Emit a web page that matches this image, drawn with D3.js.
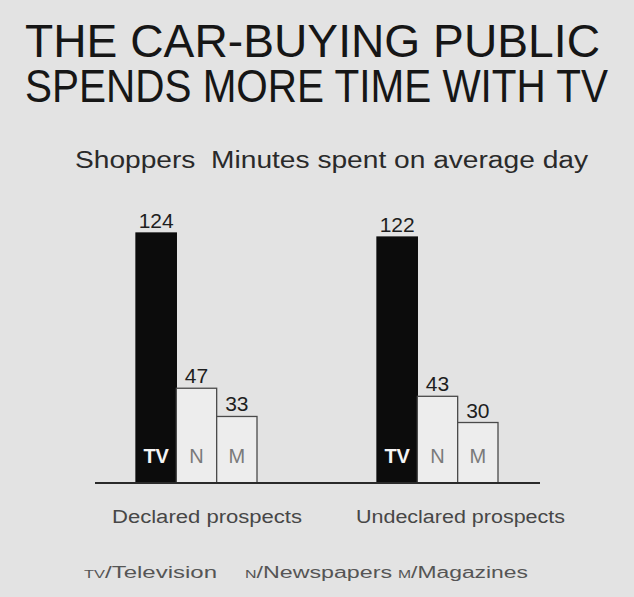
<!DOCTYPE html>
<html>
<head>
<meta charset="utf-8">
<script src="https://cdn.jsdelivr.net/npm/d3@7"></script>
<style>
  body { margin: 0; background: #fff; }
  svg text { font-family: "Liberation Sans", Arial, sans-serif; white-space: pre; }
</style>
</head>
<body>
<div id="chart"></div>
<script>
var groups = ["Declared prospects", "Undeclared prospects"];
var media = ["TV", "N", "M"];
var tvValues = [124, 122];
var newspaperValues = [47, 43];
var magazineValues = [33, 30];
var legendLabels = [["TV", "/Television"], ["N", "/Newspapers"], ["M", "/Magazines"]];

var width = 634, height = 597;

var rows = [];
groups.forEach(function(g, i) {
    rows.push({group: g, medium: "TV", value: tvValues[i]});
    rows.push({group: g, medium: "N", value: newspaperValues[i]});
    rows.push({group: g, medium: "M", value: magazineValues[i]});
});

var svg = d3.select("#chart").append("svg")
    .attr("width", width)
    .attr("height", height);

// paper background
svg.append("rect")
    .attr("width", width)
    .attr("height", height)
    .attr("fill", "#e3e3e3");

// title (slightly stretched vertically, like the original lettering)
svg.append("text")
    .attr("transform", "translate(25,57) scale(1,1.08)")
    .attr("font-size", 42)
    .attr("fill", "#161616")
    .attr("textLength", 575)
    .attr("lengthAdjust", "spacingAndGlyphs")
    .text("THE CAR-BUYING PUBLIC");

svg.append("text")
    .attr("transform", "translate(25,102) scale(1,1.08)")
    .attr("font-size", 42)
    .attr("fill", "#161616")
    .attr("textLength", 583)
    .attr("lengthAdjust", "spacingAndGlyphs")
    .text("SPENDS MORE TIME WITH TV");

svg.append("text")
    .attr("x", 75).attr("y", 168)
    .attr("font-size", 23)
    .attr("fill", "#2a2a2a")
    .attr("textLength", 513)
    .attr("lengthAdjust", "spacingAndGlyphs")
    .text("Shoppers  Minutes spent on average day");

var x0 = d3.scaleBand()
    .domain(groups)
    .range([136, 498])
    .paddingInner(120 / 241)
    .paddingOuter(0);

var x1 = d3.scaleBand()
    .domain(media)
    .range([0, x0.bandwidth()])
    .padding(0);

var y = d3.scaleLinear()
    .domain([0, 124])
    .range([483, 233]);

var bars = svg.append("g");

bars.selectAll("rect")
    .data(rows)
    .enter().append("rect")
    .attr("x", function(d) { return x0(d.group) + x1(d.medium); })
    .attr("y", function(d) { return y(d.value); })
    .attr("width", x1.bandwidth())
    .attr("height", function(d) { return y(0) - y(d.value); })
    .attr("fill", function(d) { return d.medium === "TV" ? "#0c0c0c" : "#ededed"; })
    .attr("stroke", function(d) { return d.medium === "TV" ? "#0c0c0c" : "#4a4a4a"; })
    .attr("stroke-width", 1.3);

// value labels
bars.selectAll("text.value")
    .data(rows)
    .enter().append("text")
    .attr("class", "value")
    .attr("x", function(d) { return x0(d.group) + x1(d.medium) + x1.bandwidth() / 2; })
    .attr("y", function(d) { return y(d.value) - 5; })
    .attr("text-anchor", "middle")
    .attr("font-size", 21)
    .attr("fill", "#1e1e1e")
    .text(function(d) { return d.value; });

// letters inside bars
bars.selectAll("text.letter")
    .data(rows)
    .enter().append("text")
    .attr("class", "letter")
    .attr("x", function(d) { return x0(d.group) + x1(d.medium) + x1.bandwidth() / 2; })
    .attr("y", 463)
    .attr("text-anchor", "middle")
    .attr("font-size", 20)
    .attr("font-weight", function(d) { return d.medium === "TV" ? "bold" : "normal"; })
    .attr("fill", function(d) { return d.medium === "TV" ? "#f4f4f4" : "#7a7a7a"; })
    .text(function(d) { return d.medium; });

// baseline
svg.append("line")
    .attr("x1", 95).attr("x2", 540)
    .attr("y1", y(0)).attr("y2", y(0))
    .attr("stroke", "#2a2a2a")
    .attr("stroke-width", 2);

// group labels
var groupLabelPos = [[112, 190], [356, 209]];
svg.selectAll("text.group")
    .data(groups)
    .enter().append("text")
    .attr("class", "group")
    .attr("x", function(d, i) { return groupLabelPos[i][0]; })
    .attr("y", 523)
    .attr("font-size", 18)
    .attr("fill", "#474747")
    .attr("textLength", function(d, i) { return groupLabelPos[i][1]; })
    .attr("lengthAdjust", "spacingAndGlyphs")
    .text(function(d) { return d; });

// legend
var legendPos = [[84, 133], [245, 147], [398, 130]];
legendLabels.forEach(function(l, i) {
    var t = svg.append("text")
        .attr("x", legendPos[i][0])
        .attr("y", 578)
        .attr("font-size", 16)
        .attr("fill", "#555")
        .attr("textLength", legendPos[i][1])
        .attr("lengthAdjust", "spacingAndGlyphs");
    t.append("tspan").attr("font-size", 11).text(l[0]);
    t.append("tspan").text(l[1]);
});
</script>
</body>
</html>
